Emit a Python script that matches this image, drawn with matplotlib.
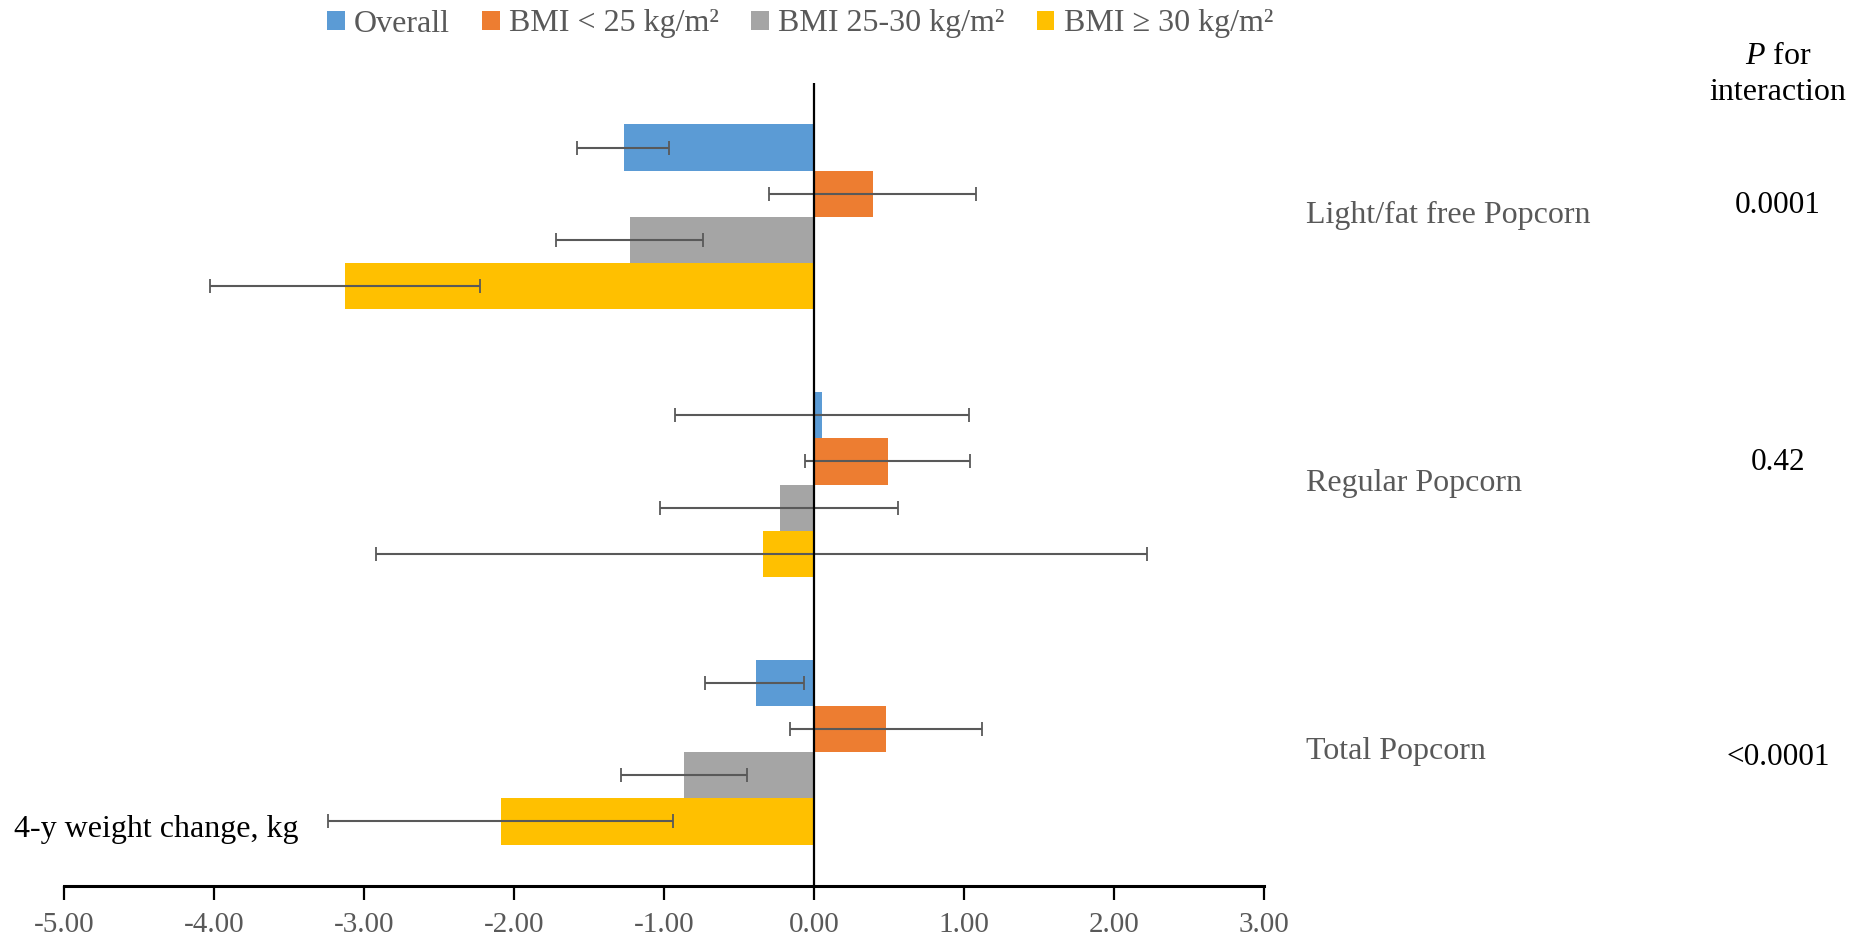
import matplotlib
matplotlib.use("Agg")
import matplotlib.pyplot as plt
import matplotlib.transforms as mtransforms
import numpy as np

plt.rcParams['font.family'] = ['Liberation Serif', 'DejaVu Serif']
plt.rcParams['mathtext.fontset'] = 'custom'
plt.rcParams['mathtext.it'] = 'Liberation Serif:italic'
plt.rcParams['mathtext.rm'] = 'Liberation Serif'

# Data (categories from bottom to top)
categories = ["Total Popcorn", "Regular Popcorn", "Light/fat free Popcorn"]
p_values = ["<0.0001", "0.42", "0.0001"]
series = ["Overall", "BMI < 25 kg/m²", "BMI 25-30 kg/m²", "BMI ≥ 30 kg/m²"]
colors = ["#5B9BD5", "#ED7D31", "#A5A5A5", "#FFC000"]

overall = [-0.39, 0.05, -1.27]
overall_lo = [-0.73, -0.93, -1.58]
overall_hi = [-0.07, 1.03, -0.97]

bmi_lt25 = [0.48, 0.49, 0.39]
bmi_lt25_lo = [-0.16, -0.06, -0.30]
bmi_lt25_hi = [1.12, 1.04, 1.08]

bmi_25_30 = [-0.87, -0.23, -1.23]
bmi_25_30_lo = [-1.29, -1.03, -1.72]
bmi_25_30_hi = [-0.45, 0.56, -0.74]

bmi_ge30 = [-2.09, -0.34, -3.13]
bmi_ge30_lo = [-3.24, -2.92, -4.03]
bmi_ge30_hi = [-0.94, 2.22, -2.23]

values = [overall, bmi_lt25, bmi_25_30, bmi_ge30]
lows = [overall_lo, bmi_lt25_lo, bmi_25_30_lo, bmi_ge30_lo]
highs = [overall_hi, bmi_lt25_hi, bmi_25_30_hi, bmi_ge30_hi]

xticks = [-5, -4, -3, -2, -1, 0, 1, 2, 3]

fig = plt.figure(figsize=(18.65, 9.43), dpi=100)
ax = fig.add_axes([64/1865, 1-886/943, 1200/1865, (886-83)/943])

ypos = np.arange(len(categories))
h = 0.69 / 4
offsets = [1.5*h, 0.5*h, -0.5*h, -1.5*h]
grey = "#595959"
for i in range(4):
    v = np.array(values[i])
    lo = np.array(lows[i])
    hi = np.array(highs[i])
    y = ypos + offsets[i]
    ax.barh(y, v, height=h, color=colors[i], label=series[i], zorder=2)
    ax.errorbar(v, y, xerr=[v - lo, hi - v], fmt='none', ecolor=grey,
                elinewidth=1.5, capsize=5, capthick=1.3, zorder=3)

ax.set_xlim(-5, 3)
ax.set_ylim(-0.5, 2.5)
ax.axvline(0, color='black', lw=1.6, zorder=4)
for s in ['left', 'right', 'top']:
    ax.spines[s].set_visible(False)
ax.spines['bottom'].set_linewidth(2.2)
ax.spines['bottom'].set_color('black')
ax.set_yticks([])
ax.set_xticks(xticks)
ax.set_xticklabels([f"{t:.2f}" for t in xticks])
ax.tick_params(axis='x', direction='out', length=10, width=1.6, color='black',
               labelsize=21, labelcolor=grey, pad=9)

trans = mtransforms.blended_transform_factory(fig.transFigure, ax.transData)
p_shift = [-0.02, 0.083, 0.043]
for yc, cat, pv, ps in zip(ypos, categories, p_values, p_shift):
    fig.text(1306/1865, yc + 0.004, cat, fontsize=23, color=grey, va='center', ha='left', transform=trans)
    fig.text(1778/1865, yc + ps, pv, fontsize=22.5, color='black', va='center', ha='center', transform=trans)

fig.text(1778/1865, 1-56/943, r"$\mathit{P}$ for", fontsize=23, color='black', ha='center', va='center')
fig.text(1778/1865, 1-93/943, "interaction", fontsize=23, color='black', ha='center', va='center')
fig.text(14/1865, 1-829/943, "4-y weight change, kg", fontsize=23, color='black', ha='left', va='center')

leg = fig.legend(loc='center', bbox_to_anchor=(800/1865, 1-24/943), ncol=4, frameon=False,
                 fontsize=23, handlelength=0.55, handleheight=0.55, handletextpad=0.3,
                 columnspacing=1.0, labelcolor=grey)

fig.savefig("out.png", dpi=100)
